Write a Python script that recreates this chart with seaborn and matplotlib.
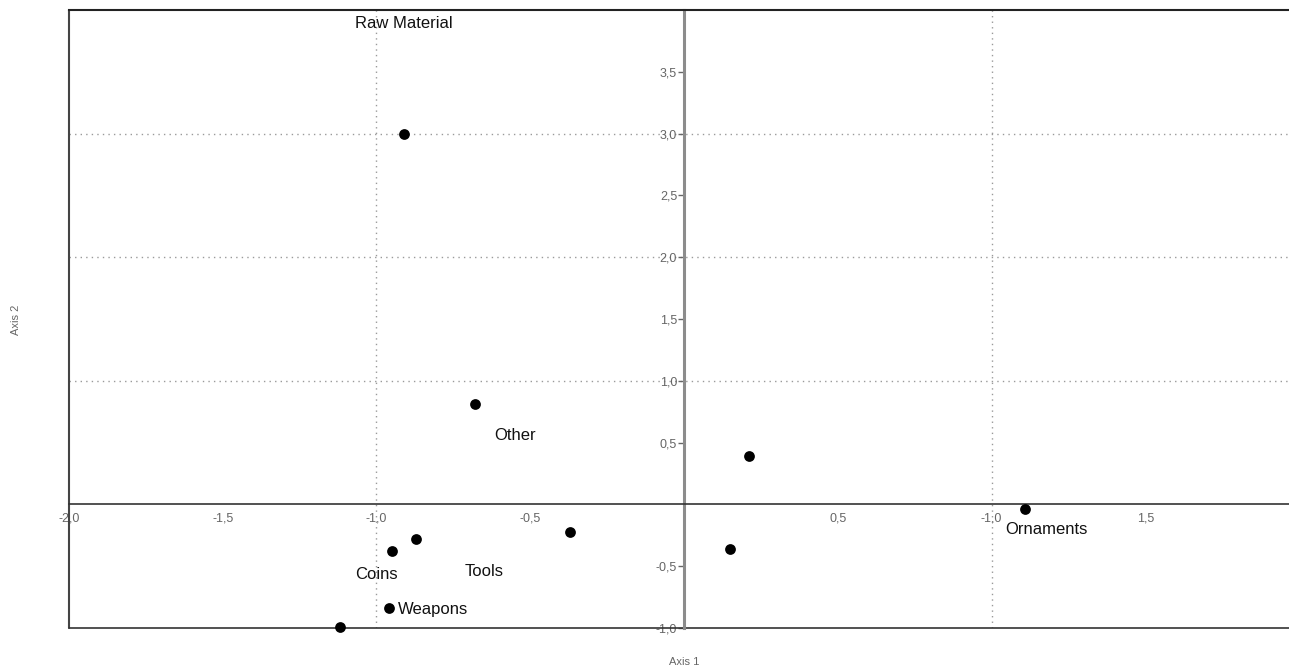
import matplotlib
matplotlib.use("Agg")
import matplotlib.pyplot as plt
import seaborn as sns
import pandas as pd

# points (axis 1 / axis 2 scores)
axis1 = [-0.91, -0.68, 0.21, 1.11, 0.15, -0.37, -0.87, -0.95, -0.96, -1.12]
axis2 = [3.00, 0.81, 0.39, -0.04, -0.36, -0.22, -0.28, -0.38, -0.84, -0.99]

# category labels and where they sit
label_names = ["Raw Material", "Other", "Ornaments", "Coins", "Tools", "Weapons"]
label_x = [-0.91, -0.55, 1.18, -1.0, -0.65, -0.93]
label_y = [3.89, 0.56, -0.20, -0.57, -0.54, -0.85]
label_ha = ["center", "center", "center", "center", "center", "left"]

# ticks
x_ticks = [-2.0, -1.5, -1.0, -0.5, 0.5, 1.0, 1.5]
x_tick_labels = ["-2,0", "-1,5", "-1,0", "-0,5", "0,5", "-1,0", "1,5"]
y_ticks = [-1.0, -0.5, 0.5, 1.0, 1.5, 2.0, 2.5, 3.0, 3.5]
y_tick_labels = ["-1,0", "-0,5", "0,5", "1,0", "1,5", "2,0", "2,5", "3,0", "3,5"]
grid_x = [-1.0, 1.0]
grid_y = [1.0, 2.0, 3.0]

sns.set_theme(style="white")
plt.rcParams['font.family'] = ['Liberation Sans', 'DejaVu Sans']

df = pd.DataFrame({"Axis 1": axis1, "Axis 2": axis2})

fig = plt.figure(figsize=(12.89, 6.68), dpi=100)
ax = fig.add_axes([0.0535, 0.06, 0.9505, 0.925])

# dotted grid
for gx in grid_x:
    ax.axvline(gx, color="#9a9a9a", lw=1, ls=(0, (1, 3)), zorder=0)
for gy in grid_y:
    ax.axhline(gy, color="#9a9a9a", lw=1, ls=(0, (1, 3)), zorder=0)

sns.scatterplot(data=df, x="Axis 1", y="Axis 2", color="black", s=60,
                edgecolor="black", linewidth=0, ax=ax, zorder=3, clip_on=False)

for name, tx, ty, ha in zip(label_names, label_x, label_y, label_ha):
    ax.text(tx, ty, name, ha=ha, va="center", fontsize=12, color="#111111")

ax.set_xlim(-2.0, 1.984)
ax.set_ylim(-1.0, 4.0)

# axes through the origin
ax.spines["left"].set_position(("data", 0))
ax.spines["left"].set_color("#8c8c8c")
ax.spines["left"].set_linewidth(2.2)
ax.spines["bottom"].set_position(("data", 0))
ax.spines["bottom"].set_color("#333333")
ax.spines["bottom"].set_linewidth(1.2)
ax.spines["top"].set_color("#222222")
ax.spines["top"].set_linewidth(1.5)
ax.spines["right"].set_visible(False)

# outer frame on the left and bottom
ax.plot([0, 0], [0, 1], transform=ax.transAxes, color="#444444", lw=1.5, clip_on=False)
ax.plot([0, 1], [0, 0], transform=ax.transAxes, color="#333333", lw=1.2, clip_on=False)

ax.set_xticks(x_ticks)
ax.set_xticklabels(x_tick_labels)
ax.set_yticks(y_ticks)
ax.set_yticklabels(y_tick_labels)
ax.tick_params(axis="x", length=0, pad=6, labelsize=9, labelcolor="#666666")
ax.tick_params(axis="y", left=True, length=4, width=1, color="#666666", direction="out",
               pad=1, labelsize=9, labelcolor="#666666")

ax.set_xlabel("")
ax.set_ylabel("")
fig.text(684 / 1289, 1 - 662 / 668, "Axis 1", ha="center", va="center", fontsize=8, color="#666666")
fig.text(16 / 1289, 1 - 320 / 668, "Axis 2", ha="center", va="center", rotation=90,
         fontsize=8, color="#666666")

fig.savefig("out.png", dpi=100)
